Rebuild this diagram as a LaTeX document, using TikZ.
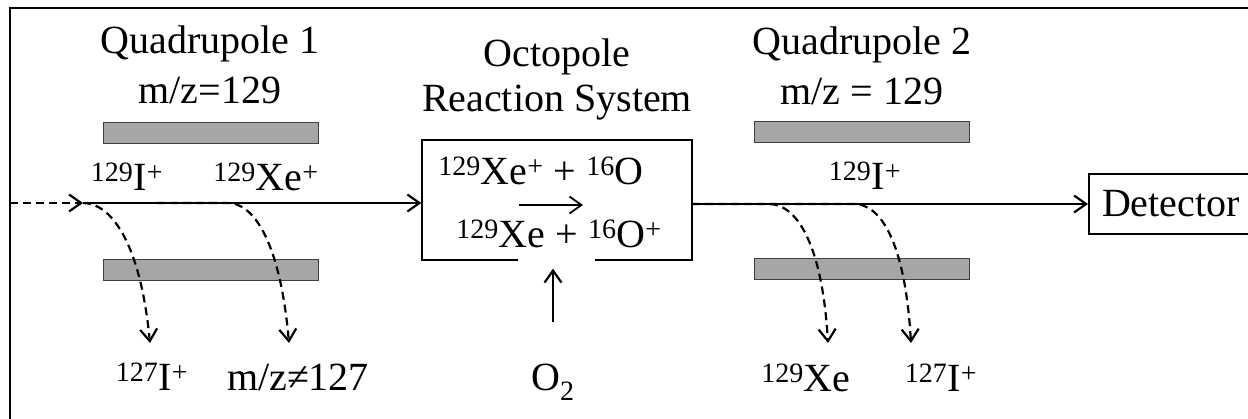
\documentclass[tikz,border=0pt]{standalone}
\usepackage{fontspec}
\setmainfont{Liberation Serif}
\usetikzlibrary{arrows.meta}
\begin{document}
\begin{tikzpicture}[x=1pt,y=-1pt,
  >={Straight Barb[length=12pt,width=17pt]},
  txt/.style={inner sep=0pt,font=\fontsize{40}{44}\selectfont},
  lbl/.style={txt,anchor=base},
  bar/.style={draw=black!75,fill=black!35,line width=1pt,minimum width=215pt,minimum height=21pt,inner sep=0pt},
  beam/.style={line width=2.2pt},
  dbeam/.style={line width=2.2pt,dash pattern=on 8pt off 5pt},
  rbox/.style={draw,line width=1.4pt,inner sep=0pt}]
\useasboundingbox (0,0) rectangle (1248,419);
\clip (0,0) rectangle (1248,419);
% outer frame
\coordinate (fbl) at (10,430);
\coordinate (ftl) at (10,8);
\coordinate (ftr) at (1260,8);
\draw[line width=2.5pt] (fbl) -- (ftl) -- (ftr);

% titles
\node[lbl] (q1a) at (210,54) {Quadrupole 1};
\node[lbl] (q1b) at (210,104) {m/z=129};
\node[lbl] (oca) at (557,67) {Octopole};
\node[lbl] (ocb) at (557,112) {Reaction System};
\node[lbl] (q2a) at (862,55) {Quadrupole 2};
\node[lbl] (q2b) at (862,105) {m/z = 129};

% rods
\node[bar] (b1t) at (210.5,133.5) {};
\node[bar] (b1b) at (210.5,270.5) {};
\node[bar] (b2t) at (861.5,132.5) {};
\node[bar] (b2b) at (861.5,269.5) {};

% reaction box
\node[rbox,minimum width=270pt,minimum height=120pt] (ors) at (557,200) {};
\fill[white] (518,258) rectangle (595,262);
\node[lbl] (r1) at (541,185) {\textsuperscript{129}Xe\textsuperscript{+} + \textsuperscript{16}O};
\node[lbl] (r2) at (559,248) {\textsuperscript{129}Xe + \textsuperscript{16}O\textsuperscript{+}};
\coordinate (ra) at (519,205);
\coordinate (rb) at (583,205);
\draw[->,line width=1.8pt] (ra) -- (rb);

% detector
\node[txt,draw,line width=2pt,anchor=west,minimum height=60pt,inner xsep=13pt] (det) at (1088,204) {Detector};

% ion labels
\node[lbl] (i1) at (127,191) {\textsuperscript{129}I\textsuperscript{+}};
\node[lbl] (i2) at (266,191) {\textsuperscript{129}Xe\textsuperscript{+}};
\node[lbl] (i3) at (865,190) {\textsuperscript{129}I\textsuperscript{+}};

\node[lbl] (o1) at (152,391) {\textsuperscript{127}I\textsuperscript{+}};
\node[lbl] (o2) at (298,391) {m/z≠127};
\node[lbl] (o3) at (553,391) {O\textsubscript{2}};
\node[lbl] (o4) at (806,392) {\textsuperscript{129}Xe};
\node[lbl] (o5) at (941,392) {\textsuperscript{127}I\textsuperscript{+}};

% beam, left
\coordinate (s0) at (10,203);
\coordinate (c1) at (83,203);
\coordinate (c2a) at (157,203);
\coordinate (c2) at (228,203);
\coordinate (e1) at (150,343);
\coordinate (e2) at (289,343);
\draw[->,dbeam] (s0) -- (c1);
\draw[->,beam] (c1) -- (c1 -| ors.west);
\draw[->,dbeam] (c1) .. controls (110,203) and (140,240) .. (e1);
\draw[->,dbeam] (c2a) -- (c2) .. controls (253,203) and (280,240) .. (e2);

% beam, right
\coordinate (r0) at (692,204);
\coordinate (c3) at (769,204);
\coordinate (c4) at (854,204);
\coordinate (e3) at (828,343);
\coordinate (e4) at (911,343);
\draw[->,beam] (ors.east |- r0) -- (r0 -| det.west);
\draw[->,dbeam] (r0) -- (c3) .. controls (795,204) and (822,240) .. (e3);
\draw[->,dbeam] (c3) -- (c4) .. controls (880,204) and (905,240) .. (e4);

% O2 inlet
\coordinate (o2t) at (553,322);
\coordinate (o2h) at ([yshift=-8pt]ors.south);
\draw[->,beam] (o2t) -- (o2t |- o2h);
\end{tikzpicture}
\end{document}
